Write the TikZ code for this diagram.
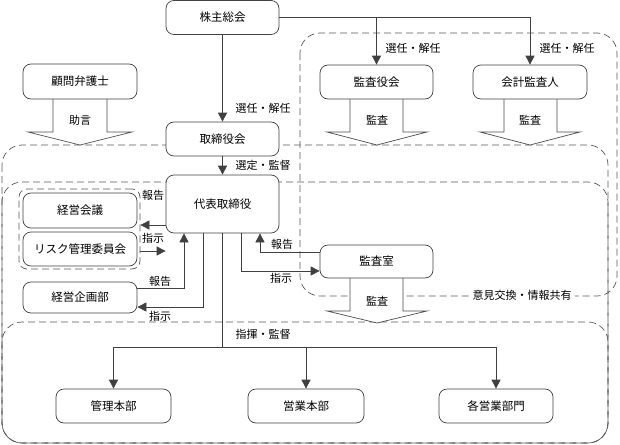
\documentclass[tikz,border=0pt]{standalone}
\usepackage{fontspec}
\setmainfont{Noto Sans CJK JP}
\usetikzlibrary{arrows.meta}
\begin{document}
\begin{tikzpicture}[x=1pt,y=-1pt,
  box/.style={draw=black!75, rounded corners=8pt, fill=white, line width=0.7pt,
    font=\fontsize{11.5}{13}\selectfont, inner sep=0pt},
  zone/.style={draw=black!65, line width=0.7pt, rounded corners=20pt, dash pattern=on 7pt off 4pt},
  grpzone/.style={draw=black!65, line width=0.7pt, rounded corners=8pt, dash pattern=on 7pt off 4pt, inner sep=0pt},
  conn/.style={draw=black!75, line width=0.7pt},
  arr/.style={conn, -{Triangle[length=9pt,width=9pt]}},
  lbl/.style={font=\fontsize{11}{13}\selectfont, inner sep=1pt},
  barrow/.style={draw=black!70, fill=white, line width=0.7pt}
]
\useasboundingbox (0,0) rectangle (620,444);

% dashed zones
\draw[zone] (2,145) rectangle (608,443);
\draw[zone] (2,182) rectangle (608,443);
\draw[zone] (2,322) rectangle (608,443);
\draw[zone] (300,33) rectangle (617,296);
\node[grpzone, minimum width=121pt, minimum height=80pt] (grp) at (79.5,229) {};

% block arrows
\draw[barrow] (53,99) -- (53,132) -- (28,132) -- (80,145) -- (132,132) -- (107,132) -- (107,99);
\draw[barrow] (350,99) -- (350,132) -- (327,132) -- (377,145) -- (427,132) -- (403,132) -- (403,99);
\draw[barrow] (504,99) -- (504,132) -- (480,132) -- (530,145) -- (580,132) -- (557,132) -- (557,99);
\draw[barrow] (350,278) -- (350,311) -- (327,311) -- (377,323) -- (427,311) -- (403,311) -- (403,278);

% boxes
\node[box, minimum width=113pt, minimum height=34pt] (kabu) at (222.5,17.5) {株主総会};
\node[box, minimum width=114pt, minimum height=35pt] (komon) at (80,81.5) {顧問弁護士};
\node[box, minimum width=113pt, minimum height=34pt] (torishimari) at (222.5,139) {取締役会};
\node[box, minimum width=113pt, minimum height=34pt] (kansayaku) at (376.5,82) {監査役会};
\node[box, minimum width=114pt, minimum height=34pt] (kaikei) at (530,82) {会計監査人};
\node[box, minimum width=113pt, minimum height=58pt] (daihyo) at (222.5,204) {代表取締役};
\node[box, minimum width=114pt, minimum height=35pt] (keiei) at (80,210.5) {経営会議};
\node[box, minimum width=114pt, minimum height=34pt] (risk) at (80,249) {リスク管理委員会};
\node[box, minimum width=114pt, minimum height=31pt] (kikaku) at (80,297.5) {経営企画部};
\node[box, minimum width=113pt, minimum height=33pt] (kansashitsu) at (376.5,261.5) {監査室};
\node[box, minimum width=115pt, minimum height=34pt] (kanri) at (113.5,406) {管理本部};
\node[box, minimum width=116pt, minimum height=34pt] (eigyo) at (306,406) {営業本部};
\node[box, minimum width=114pt, minimum height=34pt] (kakueigyo) at (496,406) {各営業部門};

% connectors
\draw[arr] (kabu) -- (torishimari);
\draw[arr] (kabu.east) -| (kansayaku.north);
\draw[arr] (kabu.east) -| (kaikei.north);
\draw[arr] (torishimari) -- (daihyo);

\coordinate (g1) at ([yshift=-22pt]grp.east);
\coordinate (g2) at ([yshift=4pt]grp.east);
\draw[arr] (g1) -- (g1 -| daihyo.west);
\draw[arr] (g2 -| daihyo.west) -- (g2);

\draw[arr] ([yshift=9.5pt]kikaku.east) -| ([xshift=-38.5pt]daihyo.south);
\draw[arr] ([xshift=-19.5pt]daihyo.south) |- ([yshift=-9.5pt]kikaku.east);

\draw[arr] ([yshift=9.5pt]kansashitsu.west) -| ([xshift=37.5pt]daihyo.south);
\draw[arr] ([xshift=19pt]daihyo.south) |- ([yshift=-9.5pt]kansashitsu.west);

\coordinate (hub) at (222.5,347);
\draw[conn] (daihyo.south) -- (hub);
\draw[arr] (hub) -| (kanri.north);
\draw[arr] (hub) -| (eigyo.north);
\draw[arr] (hub) -| (kakueigyo.north);

% labels
\node[lbl] (l1) at (263,108) {選任・解任};
\node[lbl] (l2) at (413,48) {選任・解任};
\node[lbl] (l3) at (567,48) {選任・解任};
\node[lbl] (l4) at (263,165) {選定・監督};
\node[lbl] (l5) at (153,195) {報告};
\node[lbl] (l6) at (153,238) {指示};
\node[lbl] (l7) at (160,281) {報告};
\node[lbl] (l8) at (160,316) {指示};
\node[lbl] (l9) at (282,244) {報告};
\node[lbl] (l10) at (281,278) {指示};
\node[lbl] (l11) at (263,334) {指揮・監督};
\node[lbl] (l12) at (80,120) {助言};
\node[lbl] (l13) at (377,120) {監査};
\node[lbl] (l14) at (530,120) {監査};
\node[lbl] (l15) at (377,301) {監査};
\node[lbl, fill=white, inner xsep=3pt] (l16) at (522,295) {意見交換・情報共有};
\end{tikzpicture}
\end{document}
